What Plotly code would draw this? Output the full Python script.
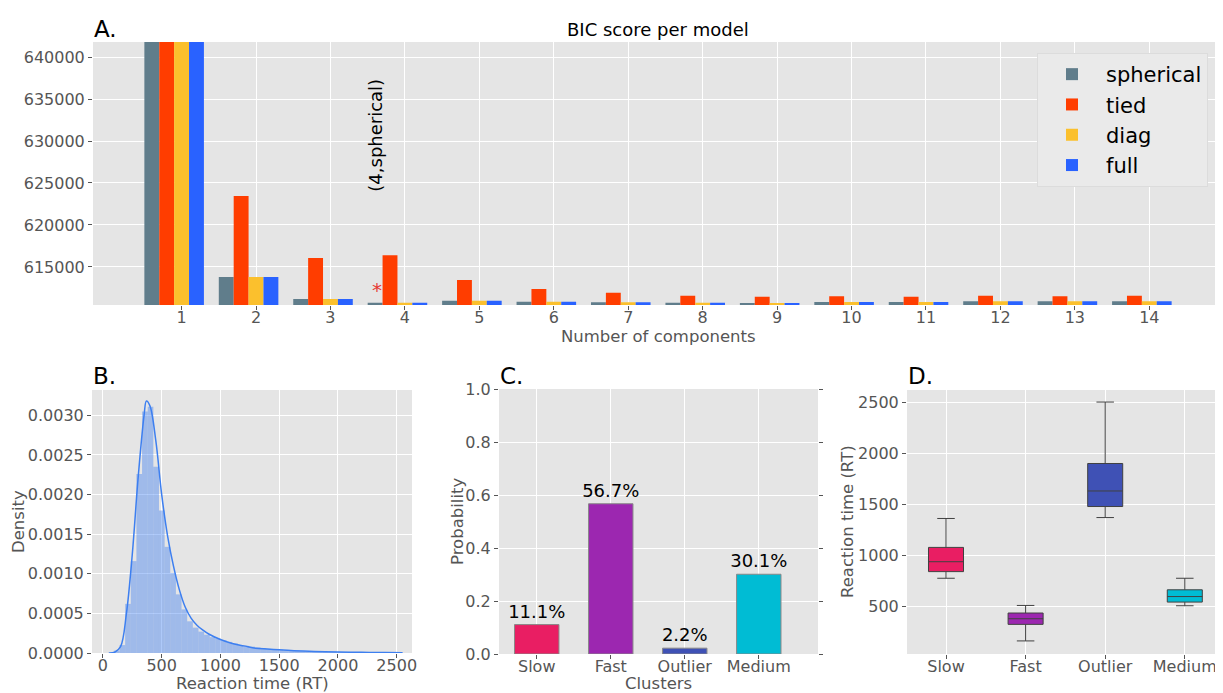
import plotly.graph_objects as go

# ---------------- data ----------------
components = list(range(1, 15))
bic_spherical = [645000, 613810, 611190, 610750, 610990, 610870, 610790, 610750, 610710, 610830, 610830, 610910, 610910, 610910]
bic_tied = [645000, 623450, 616070, 616390, 613450, 612380, 611940, 611580, 611460, 611500, 611460, 611580, 611500, 611580]
bic_diag = [645000, 613810, 611190, 610750, 610990, 610870, 610790, 610750, 610710, 610830, 610830, 610910, 610910, 610910]
bic_full = [645000, 613810, 611190, 610750, 610990, 610870, 610790, 610750, 610710, 610830, 610830, 610910, 610910, 610910]
cov_types = ["spherical", "tied", "diag", "full"]
cov_colors = ["#607D8B", "#FF3D00", "#FBC02D", "#2962FF"]

hist_start = 45
hist_width = 48
hist_density = [0.0, 0.00003, 0.00010, 0.00062, 0.00116, 0.00226, 0.00305, 0.00311, 0.00235, 0.00180,
                0.00134, 0.00101, 0.00074, 0.00055, 0.00040, 0.00032, 0.00027, 0.00023, 0.00020, 0.00018,
                0.00016, 0.00014, 0.00012, 0.00010, 0.00009, 0.00008, 0.00007, 0.00006, 0.00005, 0.000045,
                0.00004, 0.000035, 0.00003, 0.000028, 0.000025, 0.000022, 0.00002, 0.000018, 0.000016, 0.000015,
                0.000014, 0.000013, 0.000012, 0.00001, 0.00001, 0.000009, 0.000008, 0.000008, 0.000007, 0.000006]
kde_x = [50, 100, 150, 200, 250, 300, 350, 370, 400, 450, 500, 550, 600, 650, 700, 750, 800, 850, 900,
         1000, 1100, 1200, 1300, 1400, 1500, 1600, 1800, 2000, 2200, 2400, 2550]
kde_y = [0.0, 0.00001, 0.00008, 0.00050, 0.00125, 0.00222, 0.00300, 0.00318, 0.00312, 0.00268, 0.00200,
         0.00148, 0.00110, 0.00080, 0.00058, 0.00044, 0.00035, 0.00029, 0.00024, 0.00017, 0.00012,
         0.00009, 0.00006, 0.00005, 0.00004, 0.00003, 0.00002, 0.000012, 0.000008, 0.000005, 0.000002]

clusters = ["Slow", "Fast", "Outlier", "Medium"]
cluster_colors = ["#E91E63", "#9C27B0", "#3F51B5", "#00BCD4"]
cluster_prob = [0.111, 0.567, 0.022, 0.301]

rt_lower = [776, 163, 1370, 507]
rt_q1 = [841, 325, 1478, 543]
rt_median = [938, 380, 1630, 597]
rt_q3 = [1078, 436, 1899, 663]
rt_upper = [1361, 510, 2500, 776]

# ---------------- figure ----------------
# the page body has an 8px margin, so the figure is laid out in page pixels minus 8
OFF = 8
W, H = 1223 - OFF, 693 - OFF
fig = go.Figure()

bic_all = [bic_spherical, bic_tied, bic_diag, bic_full]
for i, (name, vals, col) in enumerate(zip(cov_types, bic_all, cov_colors)):
    fig.add_trace(go.Bar(
        x=[k + 0.2 * (i - 2) for k in components], y=vals, width=0.2,
        name=name, marker=dict(color=col, line=dict(width=0)),
        xaxis="x", yaxis="y"))

# B: histogram + KDE
fig.add_trace(go.Bar(
    x=[hist_start + hist_width * (j + 0.5) for j in range(len(hist_density))],
    y=hist_density, width=hist_width, showlegend=False,
    marker=dict(color="rgba(61,127,240,0.42)", line=dict(width=0)),
    xaxis="x2", yaxis="y2"))
fig.add_trace(go.Scatter(
    x=kde_x, y=kde_y, mode="lines", line=dict(color="#3D7FF0", width=1.5, shape="spline"),
    showlegend=False, xaxis="x2", yaxis="y2"))

# C: cluster probabilities
fig.add_trace(go.Bar(
    x=clusters, y=cluster_prob, width=0.6, showlegend=False,
    marker=dict(color=cluster_colors, line=dict(color="#888888", width=1)),
    text=[f"{p*100:.1f}%" for p in cluster_prob], textposition="outside",
    constraintext="none",
    textfont=dict(size=18, color="black", family="DejaVu Sans"), cliponaxis=False,
    xaxis="x3", yaxis="y3"))

# D: box plots
for j, c in enumerate(clusters):
    fig.add_trace(go.Box(
        x=[c], q1=[rt_q1[j]], median=[rt_median[j]], q3=[rt_q3[j]],
        lowerfence=[rt_lower[j]], upperfence=[rt_upper[j]],
        fillcolor=cluster_colors[j], line=dict(color="#404040", width=1),
        width=0.44, whiskerwidth=0.5, showlegend=False, hoverinfo="skip",
        xaxis="x4", yaxis="y4"))

tickfont = dict(family="DejaVu Sans", size=16, color="#555555")
common = dict(showgrid=True, gridcolor="white", gridwidth=1, zeroline=False,
              ticks="outside", ticklen=4, tickcolor="#555555", tickfont=tickfont,
              showline=False, automargin=False)
xcommon = dict(common, ticklabelstandoff=-6)

def px_x(p):
    return (p - OFF) / W

def px_y(p):
    return 1 - (p - OFF) / H

fig.update_layout(
    width=W, height=H,
    margin=dict(l=0, r=0, t=0, b=0, autoexpand=False),
    paper_bgcolor="white", plot_bgcolor="#E5E5E5",
    barmode="overlay", boxmode="overlay",
    font=dict(family="DejaVu Sans", color="#555555"),
    xaxis=dict(domain=[px_x(93), 1.0], anchor="y", range=[-0.19, 14.99],
               tickmode="array", tickvals=components, ticktext=[str(k) for k in components], **xcommon),
    yaxis=dict(domain=[px_y(305), px_y(42)], anchor="x", range=[610470, 641790],
               tickvals=[615000, 620000, 625000, 630000, 635000, 640000], tickformat="d", **common),
    xaxis2=dict(domain=[px_x(92), px_x(412)], anchor="y2", range=[-93, 2630],
                tickvals=[0, 500, 1000, 1500, 2000, 2500], **xcommon),
    yaxis2=dict(domain=[px_y(653), px_y(390)], anchor="x2", range=[0, 0.00332],
                tickvals=[0, 0.0005, 0.001, 0.0015, 0.002, 0.0025, 0.003], tickformat=".4f", **common),
    xaxis3=dict(domain=[px_x(499), px_x(818)], anchor="y3", range=[-0.51, 3.8],
                type="category", **xcommon),
    yaxis3=dict(domain=[px_y(654), px_y(389)], anchor="x3", range=[0, 1.0],
                tickvals=[0, 0.2, 0.4, 0.6, 0.8, 1.0], tickformat=".1f", mirror="ticks", **common),
    xaxis4=dict(domain=[px_x(907), 1.0], anchor="y4", range=[-0.49, 3.48],
                type="category", **xcommon),
    yaxis4=dict(domain=[px_y(654), px_y(390)], anchor="x4", range=[35, 2618],
                tickvals=[500, 1000, 1500, 2000, 2500], **common),
    legend=dict(x=px_x(1037), y=px_y(53), xanchor="left", yanchor="top",
                bgcolor="#EAEAEA", bordercolor="#DCDCDC", borderwidth=1,
                font=dict(family="DejaVu Sans", size=21, color="black"),
                tracegroupgap=0, itemwidth=58),
)

def paper_text(text, x, y, size, color="black", angle=0, xanchor="center"):
    return dict(text=text, x=px_x(x), y=px_y(y), xref="paper", yref="paper",
                xanchor=xanchor, yanchor="middle", showarrow=False, textangle=angle,
                font=dict(size=size, color=color, family="DejaVu Sans"))

annos = [
    paper_text("A.", 92, 29, 23, xanchor="left"),
    paper_text("BIC score per model", 658, 29, 18),
    paper_text("B.", 91, 376, 23, xanchor="left"),
    paper_text("C.", 498, 376, 23, xanchor="left"),
    paper_text("D.", 906, 376, 23, xanchor="left"),
    # axis titles
    paper_text("Number of components", 658, 336, 16.5, "#555555"),
    paper_text("Reaction time (RT)", 252, 683, 16.5, "#555555"),
    paper_text("Density", 18, 522, 16.5, "#555555", angle=-90),
    paper_text("Clusters", 658, 683, 16.5, "#555555"),
    paper_text("Probability", 457, 522, 16.5, "#555555", angle=-90),
    paper_text("Reaction time (RT)", 847, 522, 16.5, "#555555", angle=-90),
    # annotations in data coordinates
    dict(text="(4,spherical)", x=3.606, y=630700, xref="x", yref="y", textangle=-90,
         showarrow=False, font=dict(size=18, color="black", family="DejaVu Sans")),
    dict(text="*", x=3.62, y=612300, xref="x", yref="y",
         showarrow=False, font=dict(size=20, color="#E53935", family="DejaVu Sans")),
]
fig.update_layout(annotations=annos)

fig.write_html("out.html")
